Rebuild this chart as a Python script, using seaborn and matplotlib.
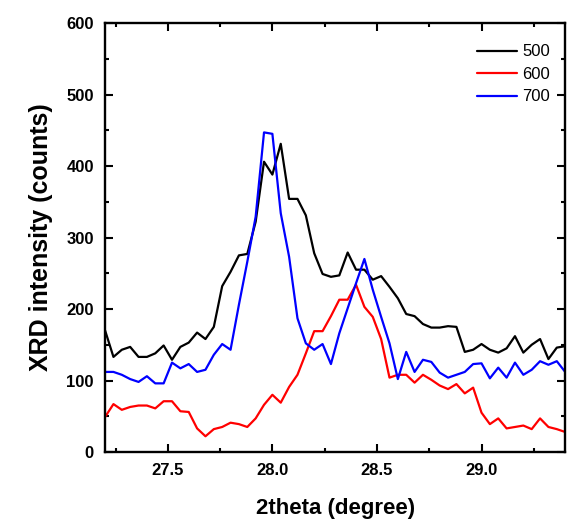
import numpy as np
import pandas as pd
import matplotlib
matplotlib.use("Agg")
import matplotlib.pyplot as plt
from matplotlib.ticker import MultipleLocator
import seaborn as sns

# ---------------- data ----------------
two_theta = np.round(27.2 + 0.04 * np.arange(56), 2)

i_500 = [170, 133, 143, 147, 133, 133, 138, 149, 129, 147,
         153, 167, 158, 175, 232, 252, 275, 277, 322, 406,
         388, 431, 354, 354, 331, 278, 249, 245, 247, 279,
         255, 255, 241, 246, 231, 215, 193, 190, 179, 174,
         174, 176, 175, 140, 143, 151, 143, 139, 145, 162,
         139, 150, 158, 130, 146, 148]

i_600 = [49, 67, 59, 63, 65, 65, 61, 71, 71, 57,
         56, 33, 22, 32, 35, 41, 39, 35, 47, 66,
         80, 69, 91, 108, 138, 169, 169, 190, 213, 213,
         234, 203, 189, 158, 104, 108, 108, 97, 108, 101,
         93, 88, 95, 82, 90, 55, 39, 47, 33, 35,
         37, 32, 47, 35, 32, 28]

i_700 = [112, 112, 108, 102, 98, 106, 96, 96, 125, 117,
         123, 112, 115, 136, 151, 143, 206, 266, 329, 447,
         445, 334, 273, 187, 152, 143, 151, 123, 166, 201,
         236, 270, 227, 189, 152, 102, 140, 112, 129, 126,
         111, 104, 108, 112, 123, 124, 103, 118, 104, 125,
         108, 115, 127, 122, 127, 112]

samples = ["500", "600", "700"]
colors = ["black", "red", "blue"]

df = pd.DataFrame({
    "two_theta": np.tile(two_theta, 3),
    "intensity": i_500 + i_600 + i_700,
    "sample": np.repeat(samples, len(two_theta)),
})

# ---------------- plot ----------------
sns.set_style("ticks")
plt.rcParams["font.family"] = ["Liberation Sans", "DejaVu Sans"]
plt.rcParams.update({"text.color": "black", "axes.labelcolor": "black",
                     "axes.edgecolor": "black", "xtick.color": "black",
                     "ytick.color": "black"})

fig = plt.figure(figsize=(5.68, 5.24), dpi=100)
ax = fig.add_axes([0.185, 0.1374, 0.81, 0.8187])

sns.lineplot(data=df, x="two_theta", y="intensity", hue="sample",
             palette=dict(zip(samples, colors)), linewidth=1.6, ax=ax)

ax.set_xlim(27.2, 29.4)
ax.set_ylim(0, 600)
ax.xaxis.set_major_locator(MultipleLocator(0.5))
ax.xaxis.set_minor_locator(MultipleLocator(0.25))
ax.yaxis.set_major_locator(MultipleLocator(100))
ax.yaxis.set_minor_locator(MultipleLocator(50))

for sp in ax.spines.values():
    sp.set_linewidth(1.7)
    sp.set_color("black")
    sp.set_visible(True)

ax.tick_params(which="both", direction="in", top=True, right=True, width=1.5,
               color="black", labelcolor="black")
ax.tick_params(which="major", length=6, pad=8, labelsize=12)
ax.tick_params(which="minor", length=3)
for lab in ax.get_xticklabels() + ax.get_yticklabels():
    lab.set_fontweight("bold")

ax.set_xlabel("2theta (degree)", fontsize=16, fontweight="bold", labelpad=14)
ax.set_ylabel("XRD intensity (counts)", fontsize=18, fontweight="bold", labelpad=10)

leg = ax.legend(title=None, frameon=False, loc="upper right", fontsize=12,
                handlelength=2.4, handletextpad=0.3, labelspacing=0.45,
                bbox_to_anchor=(1.0, 0.985))
for t in leg.get_texts():
    t.set_color("black")

fig.savefig("out.png", dpi=100)
